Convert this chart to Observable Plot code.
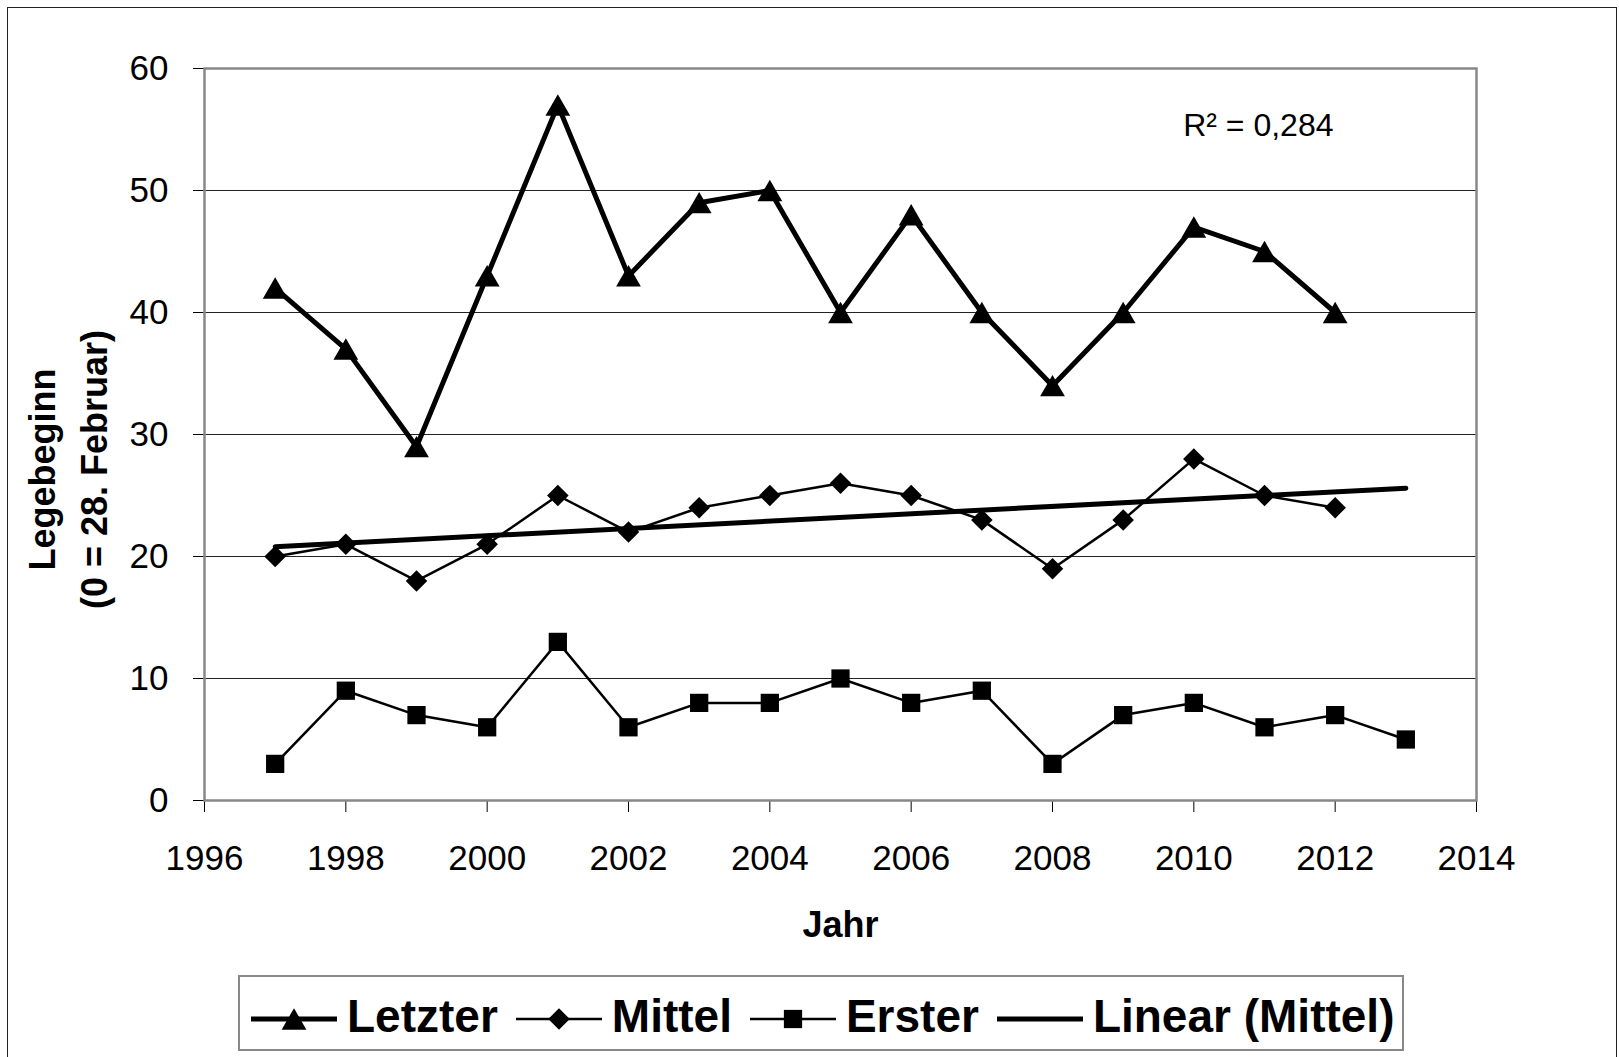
<!DOCTYPE html>
<html>
<head>
<meta charset="utf-8">
<script src="https://cdn.jsdelivr.net/npm/d3@7"></script>
<script src="https://cdn.jsdelivr.net/npm/@observablehq/plot@0.6"></script>
<style>
html, body { margin: 0; padding: 0; background: #fff; }
#chart { position: relative; width: 1619px; height: 1057px; overflow: hidden; font-family: "Liberation Sans", Arial, sans-serif; background: #fff; }
#outer { position: absolute; left: 7px; top: 7px; width: 1610px; height: 1080px; border: 1.5px solid #222; box-sizing: border-box; }
#plot { position: absolute; left: 0; top: 0; }
#legend { position: absolute; left: 238px; top: 975px; width: 1166px; height: 76px; border: 2px solid #888; box-sizing: border-box; display: flex; flex-wrap: nowrap; align-items: flex-start; padding-left: 9px; background: #fff; white-space: nowrap; }
.item { display: flex; flex-shrink: 0; align-items: flex-start; margin-right: 16px; white-space: nowrap; }
.item svg { margin-top: 22px; flex-shrink: 0; }
.item span { font-weight: bold; font-size: 46px; line-height: 46px; margin-top: 16px; margin-left: 8px; color: #000; white-space: nowrap; }
</style>
</head>
<body>
<div id="chart">
  <div id="outer"></div>
  <div id="plot"></div>
  <div id="legend"></div>
</div>
<script>
// ---- data ----
const years = [1997, 1998, 1999, 2000, 2001, 2002, 2003, 2004, 2005, 2006, 2007, 2008, 2009, 2010, 2011, 2012];
const letzter = [42, 37, 29, 43, 57, 43, 49, 50, 40, 48, 40, 34, 40, 47, 45, 40];
const mittel  = [20, 21, 18, 21, 25, 22, 24, 25, 26, 25, 23, 19, 23, 28, 25, 24];
const ersterYears = [1997, 1998, 1999, 2000, 2001, 2002, 2003, 2004, 2005, 2006, 2007, 2008, 2009, 2010, 2011, 2012, 2013];
const erster  = [3, 9, 7, 6, 13, 6, 8, 8, 10, 8, 9, 3, 7, 8, 6, 7, 5];
const trendYears = [1997, 2013];
const trendValues = [20.8, 25.6];
const xTicks = [1996, 1998, 2000, 2002, 2004, 2006, 2008, 2010, 2012, 2014];
const yTicks = [0, 10, 20, 30, 40, 50, 60];
const gridValues = [10, 20, 30, 40, 50];
const seriesNames = ["Letzter", "Mittel", "Erster", "Linear (Mittel)"];
const rSquared = "R² = 0,284";
const yLabel = "Legebeginn\n(0 = 28. Februar)";
const xLabel = "Jahr";

// ---- tables ----
const letzterData = years.map((y, i) => ({year: y, value: letzter[i]}));
const mittelData = years.map((y, i) => ({year: y, value: mittel[i]}));
const ersterData = ersterYears.map((y, i) => ({year: y, value: erster[i]}));
const trendData = trendYears.map((y, i) => ({year: y, value: trendValues[i]}));

const chart = Plot.plot({
  width: 1619,
  height: 960,
  marginLeft: 204,
  marginRight: 143,
  marginTop: 68,
  marginBottom: 160,
  style: { fontFamily: "'Liberation Sans', Arial, sans-serif", fontSize: "35px", color: "#000", background: "transparent", overflow: "visible" },
  x: { domain: [1996, 2014], ticks: xTicks, tickFormat: d => String(d), tickSize: 12, tickPadding: 33, label: null },
  y: { domain: [0, 60], ticks: yTicks, tickSize: 11, tickPadding: 25, label: null },
  marks: [
    Plot.ruleY(gridValues, { stroke: "#222", strokeWidth: 1 }),
    Plot.frame({ stroke: "#888", strokeWidth: 2.5 }),
    Plot.line(letzterData, { x: "year", y: "value", stroke: "#000", strokeWidth: 5 }),
    Plot.dot(letzterData, { x: "year", y: "value", symbol: "triangle", r: 9.2, fill: "#000", stroke: "none", dy: 3.5 }),
    Plot.line(mittelData, { x: "year", y: "value", stroke: "#000", strokeWidth: 2.5 }),
    Plot.line(ersterData, { x: "year", y: "value", stroke: "#000", strokeWidth: 2.5 }),
    Plot.dot(ersterData, { x: "year", y: "value", symbol: "square", r: 10.3, fill: "#000", stroke: "none" }),
    Plot.line(trendData, { x: "year", y: "value", stroke: "#000", strokeWidth: 5 }),
    Plot.dot(mittelData, { x: "year", y: "value", symbol: "diamond2", r: 9.7, fill: "#000", stroke: "none" }),
    Plot.text([rSquared], { frameAnchor: "top-right", textAnchor: "end", lineAnchor: "bottom", dx: -143, dy: 67, fontSize: 32, fill: "#000" }),
    Plot.text([yLabel], { frameAnchor: "left", textAnchor: "middle", lineAnchor: "middle", rotate: -90, dx: -140, dy: 35, fontSize: 36, fontWeight: "bold", lineHeight: 1.45, fill: "#000" }),
    Plot.text([xLabel], { frameAnchor: "bottom", textAnchor: "middle", lineAnchor: "bottom", dy: 136, fontSize: 36, fontWeight: "bold", fill: "#000" })
  ]
});
document.getElementById("plot").appendChild(chart);

// ---- legend ----
const symbols = ["triangle", "diamond2", "square", null];
const widths = [5, 2.5, 2.5, 5];
const radii = [9.2, 9.7, 10.3, 0];
const legend = d3.select("#legend");
seriesNames.forEach((name, i) => {
  const item = legend.append("div").attr("class", "item");
  const svg = item.append("svg").attr("width", 90).attr("height", 40);
  svg.append("line").attr("x1", 2).attr("x2", 88).attr("y1", 20).attr("y2", 20)
    .attr("stroke", "#000").attr("stroke-width", widths[i]);
  if (symbols[i]) {
    const sym = {triangle: d3.symbolTriangle, diamond2: d3.symbolDiamond2, square: d3.symbolSquare}[symbols[i]];
    svg.append("path").attr("d", d3.symbol(sym, Math.PI * radii[i] * radii[i])())
      .attr("transform", `translate(45,${symbols[i] === "triangle" ? 23.5 : 20})`).attr("fill", "#000");
  }
  item.append("span").text(name);
});
</script>
</body>
</html>
